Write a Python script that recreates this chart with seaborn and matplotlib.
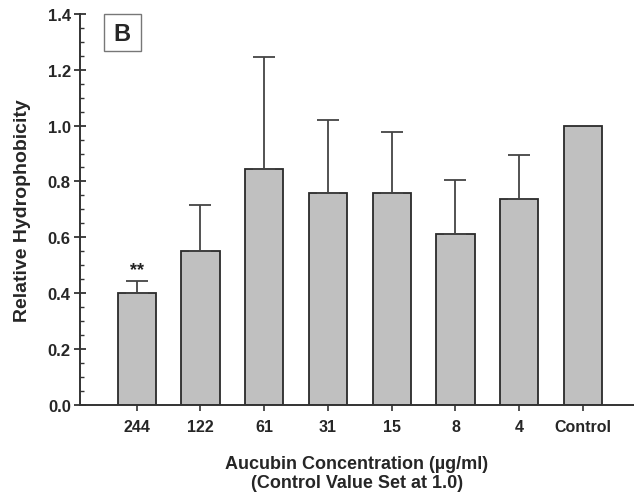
import matplotlib
matplotlib.use("Agg")
import matplotlib.pyplot as plt
import seaborn as sns
import pandas as pd
from matplotlib.ticker import MultipleLocator
from matplotlib.patches import Rectangle

categories = ["244", "122", "61", "31", "15", "8", "4", "Control"]
values = [0.40, 0.55, 0.845, 0.758, 0.758, 0.613, 0.736, 1.00]
err_upper = [0.042, 0.167, 0.401, 0.261, 0.221, 0.191, 0.157, 0.0]
yticks = [0.0, 0.2, 0.4, 0.6, 0.8, 1.0, 1.2, 1.4]

sns.set_theme(style="white")
plt.rcParams["font.family"] = ["Liberation Sans", "DejaVu Sans"]
plt.rcParams["font.weight"] = "bold"

df = pd.DataFrame({"conc": categories, "val": values})

fig = plt.figure(figsize=(6.34, 5.02), dpi=100)
ax = fig.add_axes([0.126, 0.192, 0.874, 0.778])

sns.barplot(data=df, x="conc", y="val", order=categories, color="#c0c0c0",
            width=0.6, edgecolor="#2a2a2a", linewidth=1.3, saturation=1,
            errorbar=None, ax=ax)
for p in ax.patches:
    p.set_facecolor("#c0c0c0")

xs = list(range(len(categories)))
ex = [x for x, e in zip(xs, err_upper) if e > 0]
ev = [v for v, e in zip(values, err_upper) if e > 0]
eu = [e for e in err_upper if e > 0]
ax.errorbar(ex, ev, yerr=[[0] * len(eu), eu], fmt="none", ecolor="#444444",
            elinewidth=1.3, capsize=8, capthick=1.3, zorder=1)

ax.set_xlim(-0.89, 7.8)
ax.set_ylim(0, 1.4)
ax.set_yticks(yticks)
ax.set_yticklabels([f"{t:.1f}" for t in yticks])
ax.yaxis.set_minor_locator(MultipleLocator(0.05))

for s in ["top", "right"]:
    ax.spines[s].set_visible(False)
for s in ["left", "bottom"]:
    ax.spines[s].set_color("#333333")
    ax.spines[s].set_linewidth(1.4)

ax.tick_params(axis="y", which="major", direction="inout", length=9, width=1.3,
               color="#333333", labelsize=12, pad=2, left=True)
ax.tick_params(axis="y", which="minor", direction="in", length=3, width=1.0,
               color="#333333", left=True)
ax.tick_params(axis="x", which="major", direction="out", length=4.5, width=1.2,
               color="#333333", labelsize=11.5, pad=6, bottom=True)
for lab in ax.get_xticklabels() + ax.get_yticklabels():
    lab.set_fontweight("bold")

ax.set_xlabel("Aucubin Concentration (\u00b5g/ml)\n(Control Value Set at 1.0)",
              fontsize=13, fontweight="bold", labelpad=15, linespacing=1.12)
ax.set_ylabel("Relative Hydrophobicity", fontsize=14, fontweight="bold", labelpad=12)

ax.text(0, values[0] + err_upper[0] + 0.012, "**", ha="center", va="bottom",
        fontsize=13, fontweight="bold", color="#222222")

ax.add_patch(Rectangle((-0.513, 1.268), 0.58, 0.1326, facecolor="white",
                       edgecolor="#777777", linewidth=1.0, clip_on=False, zorder=3))
ax.text(-0.223, 1.332, "B", ha="center", va="center", fontsize=17,
        fontweight="bold", zorder=4)

fig.savefig("out.png", dpi=100)
